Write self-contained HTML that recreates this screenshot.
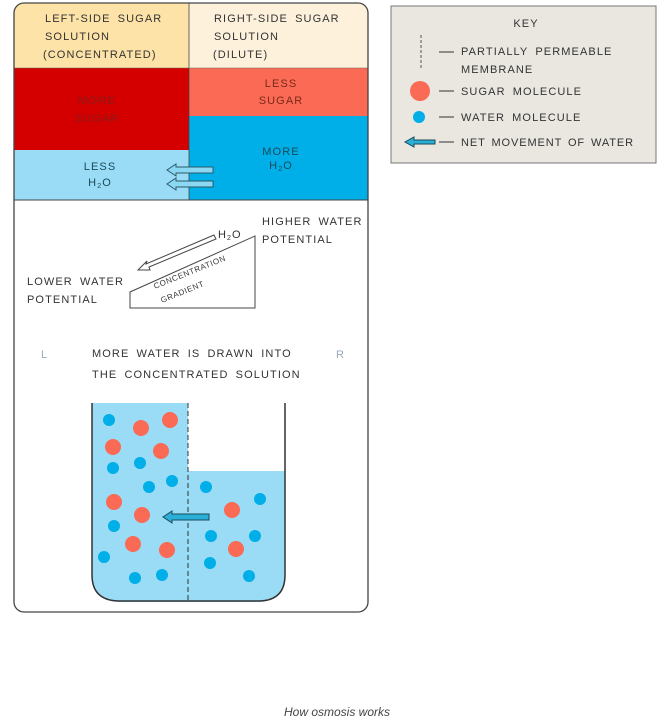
<!DOCTYPE html>
<html><head><meta charset="utf-8"><style>
body{margin:0;background:#fff;width:664px;height:719px;overflow:hidden}
svg text{font-family:"Liberation Sans",sans-serif;font-size:11px;fill:#333;letter-spacing:1.1px;word-spacing:3px}
</style></head><body>
<svg width="664" height="719" xmlns="http://www.w3.org/2000/svg">
<defs><clipPath id="c"><rect x="14" y="3" width="354" height="609" rx="10"/></clipPath></defs>
<g clip-path="url(#c)">
<rect x="14" y="3" width="354" height="609" fill="#fff"/>
<rect x="14" y="3" width="175" height="65" fill="#fde3a7"/>
<rect x="189" y="3" width="179" height="65" fill="#fdf1dc"/>
<rect x="14" y="68" width="175" height="82" fill="#d40000"/>
<rect x="189" y="68" width="179" height="48" fill="#fa6a55"/>
<rect x="189" y="116" width="179" height="84" fill="#00aee8"/>
<rect x="14" y="150" width="175" height="50" fill="#9adcf5"/>
</g>
<line x1="189" y1="3" x2="189" y2="200" stroke="#444" stroke-width="0.8"/>
<line x1="14" y1="200" x2="368" y2="200" stroke="#444" stroke-width="1"/>
<line x1="14" y1="68" x2="368" y2="68" stroke="#666" stroke-width="0.6"/>
<rect x="14" y="3" width="354" height="609" rx="10" fill="none" stroke="#444" stroke-width="1.3"/>
<text x="45" y="22">LEFT-SIDE  SUGAR</text><text x="45" y="40">SOLUTION</text><text x="43" y="58">(CONCENTRATED)</text>
<text x="214" y="22">RIGHT-SIDE  SUGAR</text><text x="214" y="40">SOLUTION</text><text x="213" y="58">(DILUTE)</text>
<text x="97" y="104" text-anchor="middle" style="fill:#8a1a1a">MORE</text><text x="97" y="122" text-anchor="middle" style="fill:#8a1a1a">SUGAR</text>
<text x="281" y="87" text-anchor="middle" style="fill:#7a2a1a">LESS</text><text x="281" y="104" text-anchor="middle" style="fill:#7a2a1a">SUGAR</text>
<text x="281" y="155" text-anchor="middle" style="fill:#1a4a5a">MORE</text><text x="281" y="169" text-anchor="middle" style="fill:#1a4a5a">H<tspan font-size="7" dy="2">2</tspan><tspan dy="-2">O</tspan></text>
<text x="100" y="170" text-anchor="middle" style="fill:#1a4a5a">LESS</text><text x="100" y="186" text-anchor="middle" style="fill:#1a4a5a">H<tspan font-size="7" dy="2">2</tspan><tspan dy="-2">O</tspan></text>
<g fill="#8ad8f2" stroke="#2a5a6a" stroke-width="1">
<path d="M213 167 L176 167 L176 164 L167 170 L176 176 L176 173 L213 173 Z"/>
<path d="M213 181 L176 181 L176 178 L167 184 L176 190 L176 187 L213 187 Z"/>
</g>
<polygon points="130,292 255,236 255,308 130,308" fill="#fff" stroke="#444" stroke-width="1"/>
<path d="M214 235 L146 264 L147 261 L138 270 L150 270 L149 267 L216 239 Z" fill="#fff" stroke="#444" stroke-width="1"/>
<text x="218" y="238">H<tspan font-size="7" dy="2">2</tspan><tspan dy="-2">O</tspan></text>
<text x="262" y="225">HIGHER  WATER</text><text x="262" y="243">POTENTIAL</text>
<text x="27" y="285">LOWER  WATER</text><text x="27" y="303">POTENTIAL</text>
<text x="155" y="289" transform="rotate(-22 155 289)" style="font-size:8px;letter-spacing:0.6px">CONCENTRATION</text>
<text x="162" y="303" transform="rotate(-22 162 303)" style="font-size:8px;letter-spacing:0.6px">GRADIENT</text>
<text x="41" y="358" style="fill:#9ab">L</text><text x="336" y="358" style="fill:#9ab">R</text>
<text x="92" y="357">MORE  WATER  IS  DRAWN  INTO</text>
<text x="92" y="378">THE  CONCENTRATED  SOLUTION</text>
<path d="M92 403 L188 403 L188 602 L118 602 Q92 600 92 575 Z" fill="#9adcf5"/>
<path d="M188 471 L285 471 L285 575 Q285 600 260 602 L188 602 Z" fill="#9adcf5"/>
<path d="M92 403 L92 575 Q92 600 118 601 L260 601 Q285 600 285 575 L285 403" fill="none" stroke="#333" stroke-width="1.5"/>
<line x1="188" y1="403" x2="188" y2="602" stroke="#333" stroke-width="1" stroke-dasharray="5,3"/>
<g fill="#fa6a55">
<circle cx="141" cy="428" r="8"/><circle cx="170" cy="420" r="8"/><circle cx="113" cy="447" r="8"/><circle cx="161" cy="451" r="8"/>
<circle cx="114" cy="502" r="8"/><circle cx="142" cy="515" r="8"/><circle cx="133" cy="544" r="8"/><circle cx="167" cy="550" r="8"/>
<circle cx="232" cy="510" r="8"/><circle cx="236" cy="549" r="8"/>
</g>
<g fill="#00aee8">
<circle cx="109" cy="420" r="6"/><circle cx="113" cy="468" r="6"/><circle cx="140" cy="463" r="6"/><circle cx="149" cy="487" r="6"/>
<circle cx="172" cy="481" r="6"/><circle cx="114" cy="526" r="6"/><circle cx="104" cy="557" r="6"/><circle cx="135" cy="578" r="6"/>
<circle cx="162" cy="575" r="6"/><circle cx="206" cy="487" r="6"/><circle cx="260" cy="499" r="6"/><circle cx="211" cy="536" r="6"/>
<circle cx="255" cy="536" r="6"/><circle cx="210" cy="563" r="6"/><circle cx="249" cy="576" r="6"/>
</g>
<path d="M209 514 L172 514 L172 511 L163 517 L172 523 L172 520 L209 520 Z" fill="#2ab0d8" stroke="#1a4a5a" stroke-width="1"/>
<rect x="391" y="6" width="265" height="157" fill="#e9e7e0" stroke="#777" stroke-width="1"/>
<text x="526" y="27" text-anchor="middle">KEY</text>
<line x1="421" y1="35" x2="421" y2="70" stroke="#555" stroke-width="1" stroke-dasharray="3,2"/>
<line x1="439" y1="52" x2="454" y2="52" stroke="#333"/><text x="461" y="55">PARTIALLY  PERMEABLE</text><text x="461" y="73">MEMBRANE</text>
<circle cx="420" cy="91" r="10" fill="#fa6a55"/>
<line x1="439" y1="91" x2="454" y2="91" stroke="#333"/><text x="461" y="95">SUGAR  MOLECULE</text>
<circle cx="419" cy="117" r="6" fill="#00aee8"/>
<line x1="439" y1="117" x2="454" y2="117" stroke="#333"/><text x="461" y="121">WATER  MOLECULE</text>
<path d="M435 140 L414 140 L414 137 L405 142 L414 147 L414 144 L435 144 Z" fill="#2ab0d8" stroke="#1a4a5a" stroke-width="1"/>
<line x1="439" y1="142" x2="454" y2="142" stroke="#333"/><text x="461" y="146" style="word-spacing:2px;letter-spacing:0.9px">NET  MOVEMENT  OF  WATER</text>
<text x="337" y="716" text-anchor="middle" style="font-size:12px;font-style:italic;letter-spacing:0;word-spacing:0;fill:#444">How osmosis works</text>
</svg>
</body></html>
